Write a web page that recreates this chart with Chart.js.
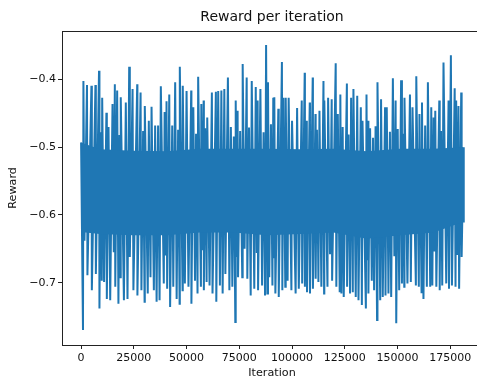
<!DOCTYPE html>
<html>
<head>
<meta charset="utf-8">
<title>Reward per iteration</title>
<script src="https://cdn.jsdelivr.net/npm/chart.js@4.4.0/dist/chart.umd.min.js"></script>
<style>
  html, body { margin: 0; padding: 0; background: #fff; overflow: hidden; }
  #wrap { position: relative; width: 490px; height: 380px; }
</style>
</head>
<body>
<div id="wrap"><canvas id="rewardChart"></canvas></div>
<script>
// reward logged at each training iteration (spike tips and band edges)
const iterations = [
  0, 900, 1100, 1600, 2800, 3000, 4900, 5100, 6800, 7000, 8500, 8700, 9300, 9800, 10000, 10900,
  12000, 12200, 13000, 13800, 14900, 15500, 16000, 16200, 17100, 17700, 18200, 18700, 18800, 20300,
  21200, 22000, 22800, 23100, 24400, 24800, 26600, 26700, 28200, 28600, 29400, 30100, 30200, 31600,
  32100, 32900, 33400, 34500, 35100, 35800, 36500, 37200, 37800, 39200, 39600, 40200, 40500, 40800,
  41800, 42200, 43200, 43700, 44600, 45300, 46000, 46700, 46800, 48100, 48200, 49200, 50000, 50900,
  52200, 52300, 53200, 54000, 54500, 55200, 55500, 56800, 57000, 57500, 58100, 58200, 58800, 59500,
  59800, 60900, 62000, 62300, 63900, 64100, 65000, 65800, 66500, 67100, 67900, 68400, 69600, 70300,
  71000, 71700, 72400, 73100, 73300, 73800, 74200, 74400, 75400, 76400, 76600, 77500, 78500, 78800,
  79600, 80400, 80900, 82100, 82800, 83300, 83700, 83900, 85000, 85800, 86500, 87200, 87700, 88300,
  88600, 89200, 90000, 90700, 91100, 91300, 91600, 92100, 93500, 93700, 95200, 95400, 95900, 96800,
  97000, 97900, 98400, 99700, 100000, 101700, 102400, 103200, 104600, 104800, 106000, 106100, 107000,
  107100, 108400, 108500, 109800, 109900, 111100, 111200, 111800, 112500, 113000, 113900, 114900,
  115200, 115300, 116800, 117100, 118000, 118800, 119000, 120700, 121000, 121700, 122600, 122900,
  123400, 124000, 124500, 126000, 126100, 126800, 127500, 128000, 128800, 129100, 130200, 130900,
  131500, 132600, 133100, 133400, 135000, 135300, 135700, 136100, 136200, 137000, 137800, 138400,
  138900, 139600, 140300, 140500, 141800, 142200, 143000, 144100, 144300, 144900, 145700, 146400,
  147000, 147800, 148500, 149100, 149400, 150100, 150800, 151700, 152100, 152600, 153200, 153300,
  154700, 155900, 156300, 157100, 158700, 158900, 160100, 160400, 161400, 161600, 162300, 163100,
  163900, 164400, 165500, 166000, 166500, 167100, 167500, 167900, 168400, 169800, 170000, 170600,
  171200, 171800, 173100, 174200, 174400, 175300, 175800, 177100, 177500, 177800, 178400, 178900,
  179200, 180200, 180400, 181300, 181400
];
const rewards = [
  -0.493, -0.770, -0.402, -0.638, -0.408, -0.689, -0.409, -0.711, -0.408, -0.687, -0.387, -0.738, -0.478, -0.697, -0.427, -0.699,
  -0.449, -0.724, -0.470, -0.726, -0.436, -0.655, -0.407, -0.706, -0.416, -0.731, -0.482, -0.692, -0.426, -0.726,
  -0.434, -0.724, -0.381, -0.662, -0.414, -0.711, -0.407, -0.719, -0.419, -0.711, -0.476, -0.728, -0.439, -0.716,
  -0.461, -0.692, -0.440, -0.711, -0.468, -0.728, -0.468, -0.726, -0.410, -0.701, -0.448, -0.660, -0.432, -0.709,
  -0.422, -0.736, -0.468, -0.706, -0.404, -0.724, -0.474, -0.731, -0.381, -0.711, -0.409, -0.701, -0.417, -0.706,
  -0.416, -0.731, -0.441, -0.697, -0.480, -0.716, -0.396, -0.706, -0.436, -0.652, -0.431, -0.711, -0.472, -0.699,
  -0.456, -0.704, -0.419, -0.716, -0.418, -0.728, -0.417, -0.704, -0.416, -0.716, -0.414, -0.687, -0.397, -0.711,
  -0.470, -0.706, -0.484, -0.758, -0.431, -0.662, -0.446, -0.692, -0.476, -0.692, -0.377, -0.650, -0.397, -0.694,
  -0.471, -0.719, -0.402, -0.709, -0.411, -0.656, -0.431, -0.711, -0.414, -0.704, -0.478, -0.719, -0.349, -0.716,
  -0.404, -0.692, -0.466, -0.704, -0.427, -0.664, -0.426, -0.716, -0.443, -0.721, -0.374, -0.711, -0.427, -0.706,
  -0.427, -0.697, -0.427, -0.711, -0.461, -0.716, -0.442, -0.709, -0.431, -0.701, -0.390, -0.706, -0.461,
  -0.714, -0.434, -0.716, -0.397, -0.709, -0.451, -0.694, -0.474, -0.699, -0.446, -0.706, -0.402,
  -0.716, -0.431, -0.706, -0.427, -0.658, -0.429, -0.697, -0.376, -0.706, -0.451, -0.714, -0.422,
  -0.716, -0.470, -0.721, -0.406, -0.706, -0.481, -0.716, -0.427, -0.714, -0.414, -0.721, -0.424,
  -0.726, -0.441, -0.733, -0.461, -0.738, -0.422, -0.667, -0.461, -0.716, -0.472, -0.697, -0.486,
  -0.711, -0.469, -0.755, -0.404, -0.726, -0.429, -0.721, -0.441, -0.719, -0.441, -0.716, -0.477,
  -0.721, -0.398, -0.661, -0.431, -0.760, -0.473, -0.711, -0.401, -0.701, -0.480, -0.706, -0.427,
  -0.701, -0.422, -0.699, -0.441, -0.704, -0.395, -0.706, -0.451, -0.714, -0.434, -0.724, -0.468,
  -0.706, -0.404, -0.706, -0.441, -0.704, -0.456, -0.654, -0.446, -0.706, -0.431, -0.711, -0.476,
  -0.704, -0.375, -0.701, -0.431, -0.709, -0.364, -0.704, -0.413, -0.706, -0.431, -0.659, -0.439,
  -0.709, -0.419, -0.662, -0.500, -0.611
];

// dense core of the signal: upper and lower edge of the solid band
const bandIters  = [0, 8900, 24700, 40500, 56300, 72200, 88000, 103800, 119600, 135400, 151300, 167100, 181300];
const bandTop    = [-0.493, -0.503, -0.505, -0.506, -0.502, -0.502, -0.502, -0.503, -0.502, -0.506, -0.502, -0.502, -0.500];
const bandBottom = [-0.625, -0.628, -0.630, -0.630, -0.626, -0.626, -0.630, -0.628, -0.626, -0.635, -0.630, -0.626, -0.610];

const xTicks = [0, 25000, 50000, 75000, 100000, 125000, 150000, 175000];
const yTicks = [-0.7, -0.6, -0.5, -0.4];

const blue = '#1f77b4';
const fontFamily = '"DejaVu Sans", sans-serif';

const toPoints = (xs, ys) => xs.map((x, i) => ({ x: x, y: ys[i] }));

// box around the plot area, like matplotlib spines
const frame = {
  id: 'frame',
  afterDatasetsDraw(chart) {
    const a = chart.chartArea;
    const ctx = chart.ctx;
    ctx.save();
    ctx.strokeStyle = '#222';
    ctx.lineWidth = 1;
    ctx.strokeRect(Math.round(a.left) + 0.5, Math.round(a.top) + 0.5,
      Math.round(a.right - a.left), Math.round(a.bottom - a.top));
    ctx.restore();
  }
};

new Chart(document.getElementById('rewardChart'), {
  type: 'line',
  data: {
    datasets: [
      {
        data: toPoints(bandIters, bandTop),
        borderWidth: 0,
        backgroundColor: blue,
        fill: '+1',
        pointRadius: 0
      },
      {
        data: toPoints(bandIters, bandBottom),
        borderWidth: 0,
        pointRadius: 0,
        fill: false
      },
      {
        label: 'Reward',
        data: toPoints(iterations, rewards),
        borderColor: blue,
        borderWidth: 2,
        pointRadius: 0,
        tension: 0,
        fill: false
      }
    ]
  },
  options: {
    responsive: true,
    maintainAspectRatio: false,
    animation: false,
    events: [],
    layout: { padding: { left: 0, right: 8, top: 0, bottom: 0 } },
    plugins: {
      legend: { display: false },
      tooltip: { enabled: false },
      title: {
        display: true,
        text: 'Reward per iteration',
        fullSize: false,
        color: '#111',
        font: { family: fontFamily, size: 14, weight: 'normal' },
        padding: { top: 9, bottom: 5 }
      }
    },
    scales: {
      x: {
        type: 'linear',
        min: -9050,
        max: 190050,
        afterBuildTicks: (scale) => { scale.ticks = xTicks.map(v => ({ value: v })); },
        afterFit: (scale) => { scale.height = 35; },
        grid: { drawOnChartArea: false, drawTicks: true, tickLength: 4, color: '#222' },
        border: { display: false },
        ticks: {
          color: '#111',
          padding: 3,
          maxRotation: 0,
          autoSkip: false,
          font: { family: fontFamily, size: 11 },
          callback: (v) => String(v)
        },
        title: {
          display: true,
          text: 'Iteration',
          color: '#111',
          font: { family: fontFamily, size: 11.2 },
          padding: { top: 0, bottom: 0 }
        }
      },
      y: {
        type: 'linear',
        min: -0.792,
        max: -0.328,
        afterBuildTicks: (scale) => { scale.ticks = yTicks.map(v => ({ value: v })); },
        afterFit: (scale) => { scale.width = 62; },
        grid: { drawOnChartArea: false, drawTicks: true, tickLength: 4, color: '#222' },
        border: { display: false },
        ticks: {
          color: '#111',
          padding: 2,
          font: { family: fontFamily, size: 11 },
          callback: (v) => v.toFixed(1).replace('-', '\u2212')
        },
        title: {
          display: true,
          text: 'Reward',
          color: '#111',
          font: { family: fontFamily, size: 11.2 },
          padding: { top: 6, bottom: 0 }
        }
      }
    }
  },
  plugins: [frame]
});
</script>
</body>
</html>
